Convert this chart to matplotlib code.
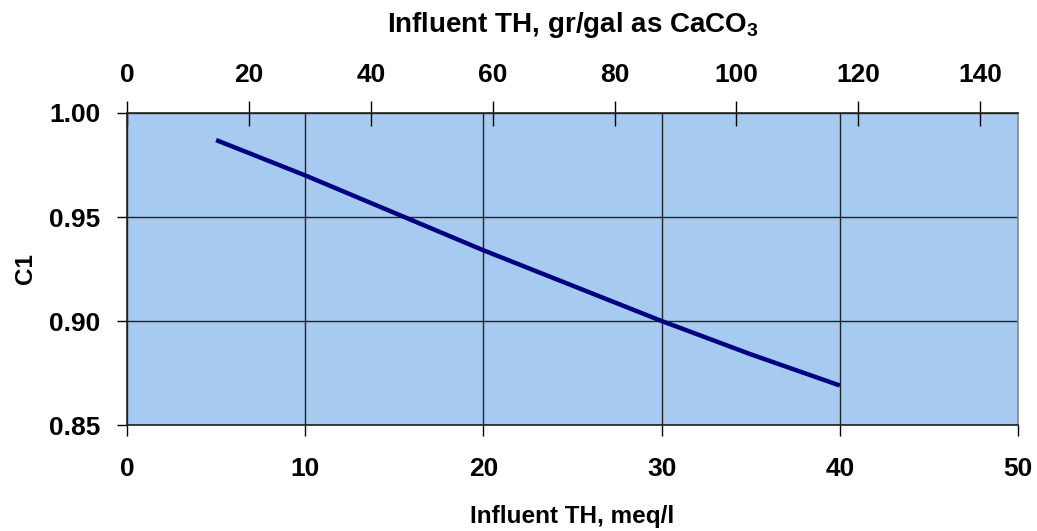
import matplotlib
matplotlib.use('Agg')
import matplotlib.pyplot as plt

# C1 correction factor vs influent total hardness
th_meq = [5, 10, 15, 20, 25, 30, 35, 40]
c1 = [0.987, 0.970, 0.952, 0.934, 0.917, 0.900, 0.884, 0.869]

x_ticks = [0, 10, 20, 30, 40, 50]
y_ticks = [0.85, 0.90, 0.95, 1.00]
top_ticks = [0, 20, 40, 60, 80, 100, 120, 140]

GR_PER_MEQ = 50.0 / 17.1  # 1 meq/l = 50 mg/l CaCO3, 17.1 mg/l per gr/gal

plt.rcParams['font.family'] = ['Liberation Sans', 'DejaVu Sans']
plt.rcParams['font.weight'] = 'bold'
plt.rcParams['mathtext.fontset'] = 'custom'
plt.rcParams['mathtext.rm'] = 'Liberation Sans:bold'
plt.rcParams['mathtext.bf'] = 'Liberation Sans:bold'

fig = plt.figure(figsize=(10.37, 5.31), dpi=100)
ax = fig.add_axes([0.1225, 0.1996, 0.8592, 0.5876])
ax.set_facecolor('#A6CAF0')

ax.plot(th_meq, c1, color='#000080', lw=3.2, solid_capstyle='butt', zorder=3)

ax.set_xlim(0, 50)
ax.set_ylim(0.85, 1.00)
ax.set_xticks(x_ticks)
ax.set_yticks(y_ticks)
ax.set_yticklabels(['%.2f' % v for v in y_ticks])
ax.grid(True, color='#222222', lw=1.0, zorder=1)
ax.set_axisbelow(True)

for s in ax.spines.values():
    s.set_color('#222222')
    s.set_linewidth(1.2)
ax.spines['right'].set_color('#888888')

ax.tick_params(axis='x', length=8, width=1, pad=15, labelsize=19)
ax.tick_params(axis='y', length=7, width=1, pad=12, labelsize=19)

ax.set_xlabel('Influent TH, meq/l', fontsize=17.5, fontweight='bold', labelpad=17)
ax.set_ylabel('C1', fontsize=17.5, fontweight='bold', labelpad=9)

top = ax.secondary_xaxis('top', functions=(lambda x: x * GR_PER_MEQ, lambda g: g / GR_PER_MEQ))
top.set_xticks(top_ticks)
top.tick_params(axis='x', direction='inout', length=18, width=1, pad=10, labelsize=19)
top.spines['top'].set_visible(False)
top.set_xlabel(r'Influent TH, gr/gal as CaCO$_{\mathrm{3}}$', fontsize=20, fontweight='bold', labelpad=22)

fig.savefig('out.png', dpi=100)
